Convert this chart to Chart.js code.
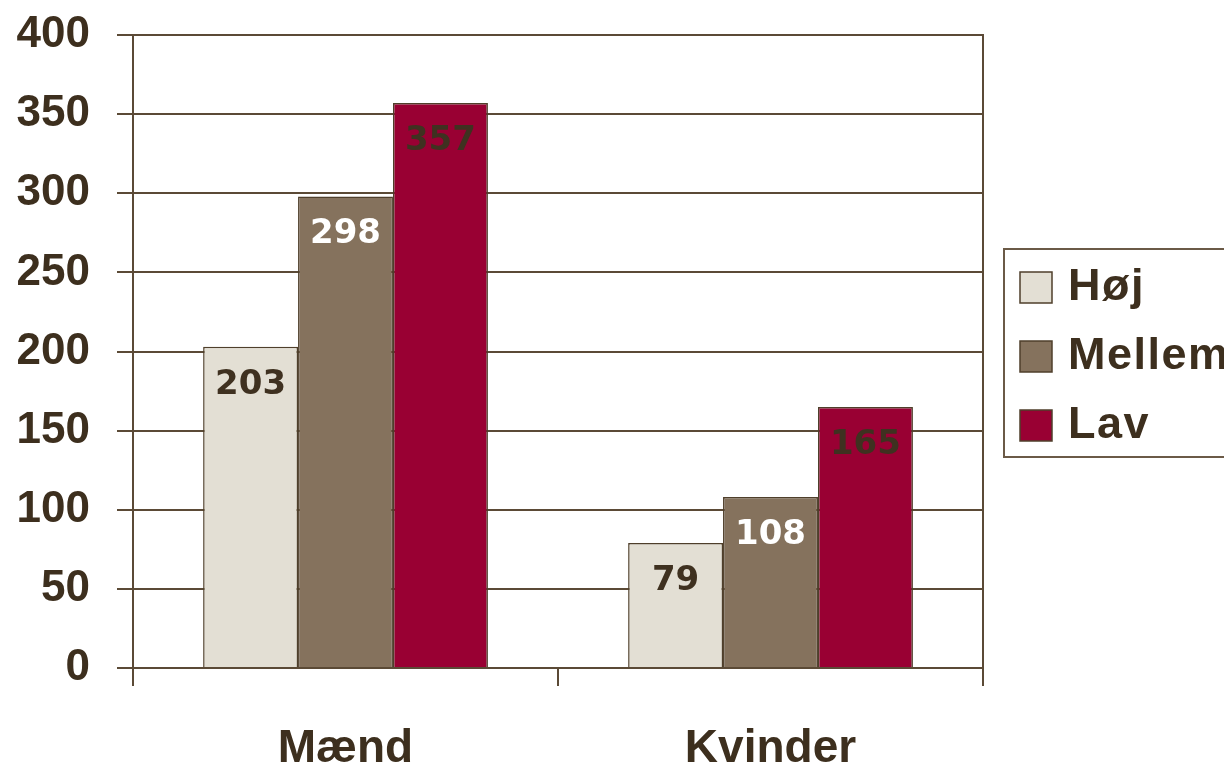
<!DOCTYPE html>
<html>
<head>
<meta charset="utf-8">
<script src="https://cdn.jsdelivr.net/npm/chart.js@4"></script>
<style>
  body { margin: 0; background: #fff; overflow: hidden; }
</style>
</head>
<body>
<canvas id="myChart" width="1224" height="764"></canvas>
<script>
const categories = ['Mænd', 'Kvinder'];
const seriesNames = ['Høj', 'Mellem', 'Lav'];
const hoj = [203, 79];
const mellem = [298, 108];
const lav = [357, 165];
const yTicks = [0, 50, 100, 150, 200, 250, 300, 350, 400];

const colors = ['#e3dfd4', '#85725d', '#990033'];
const labelColors = ['#3f3120', '#ffffff', '#3f3120'];
const ink = '#3d2f1e';
const lineColor = '#5b4a36';

// value labels inside bar tops
const valueLabels = {
  id: 'valueLabels',
  afterDatasetsDraw(chart) {
    const ctx = chart.ctx;
    ctx.save();
    ctx.font = 'bold 34px "DejaVu Sans"';
    ctx.textAlign = 'center';
    ctx.textBaseline = 'middle';
    chart.data.datasets.forEach((ds, i) => {
      chart.getDatasetMeta(i).data.forEach((bar, j) => {
        ctx.fillStyle = labelColors[i];
        ctx.fillText(ds.data[j], bar.x, bar.y + 38);
      });
    });
    ctx.restore();
  }
};

// boxed legend on the right, clipped by the canvas edge like the original
const boxLegend = {
  id: 'boxLegend',
  afterDraw(chart) {
    const ctx = chart.ctx;
    ctx.save();
    ctx.strokeStyle = '#6b5a47';
    ctx.lineWidth = 2;
    ctx.strokeRect(1004, 249, 260, 208);
    ctx.font = 'bold 45px "Liberation Sans"';
    ctx.letterSpacing = '1.5px';
    ctx.textBaseline = 'middle';
    chart.data.datasets.forEach((ds, i) => {
      const cy = 287 + i * 69;
      ctx.fillStyle = ds.backgroundColor;
      ctx.fillRect(1020, cy - 15, 32, 31);
      ctx.strokeStyle = '#4f3f2b';
      ctx.lineWidth = 1.5;
      ctx.strokeRect(1020, cy - 15, 32, 31);
      ctx.fillStyle = ink;
      ctx.fillText(ds.label, 1068, cy + 1);
    });
    ctx.restore();
  }
};

const data = {
  labels: categories,
  datasets: [hoj, mellem, lav].map((vals, i) => ({
    label: seriesNames[i],
    data: vals,
    backgroundColor: colors[i],
    borderColor: '#4f3f2b',
    borderWidth: 1.5,
    categoryPercentage: 0.67,
    barPercentage: 1
  }))
};

const config = {
  type: 'bar',
  data: data,
  options: {
    responsive: false,
    animation: false,
    layout: { padding: { top: 35, right: 241, bottom: 0, left: 0 } },
    plugins: { legend: { display: false }, tooltip: { enabled: false } },
    scales: {
      x: {
        offset: true,
        afterFit(scale) { scale.height = 96; },
        grid: { drawOnChartArea: false, offset: true, color: lineColor, lineWidth: 2, tickLength: 18 },
        border: { color: lineColor, width: 2 },
        ticks: { color: ink, font: { family: 'Liberation Sans', size: 46, weight: 'bold' }, padding: 36 }
      },
      y: {
        min: 0,
        max: 400,
        afterFit(scale) { scale.width = 133; scale.paddingTop = 0; scale.paddingBottom = 0; },
        afterBuildTicks(scale) { scale.ticks = yTicks.map(v => ({ value: v })); },
        grid: { color: lineColor, lineWidth: 2, tickLength: 16 },
        border: { color: lineColor, width: 2 },
        ticks: { color: ink, font: { family: 'Liberation Sans', size: 44, weight: 'bold', lineHeight: 0.8 }, padding: 27 }
      },
      y2: {
        position: 'right',
        min: 0,
        max: 400,
        afterFit(scale) { scale.width = 0; scale.paddingTop = 0; scale.paddingBottom = 0; },
        grid: { drawOnChartArea: false, drawTicks: false },
        border: { color: lineColor, width: 2 },
        ticks: { display: false }
      }
    }
  },
  plugins: [valueLabels, boxLegend]
};

const myChart = new Chart(document.getElementById('myChart'), config);
</script>
</body>
</html>
